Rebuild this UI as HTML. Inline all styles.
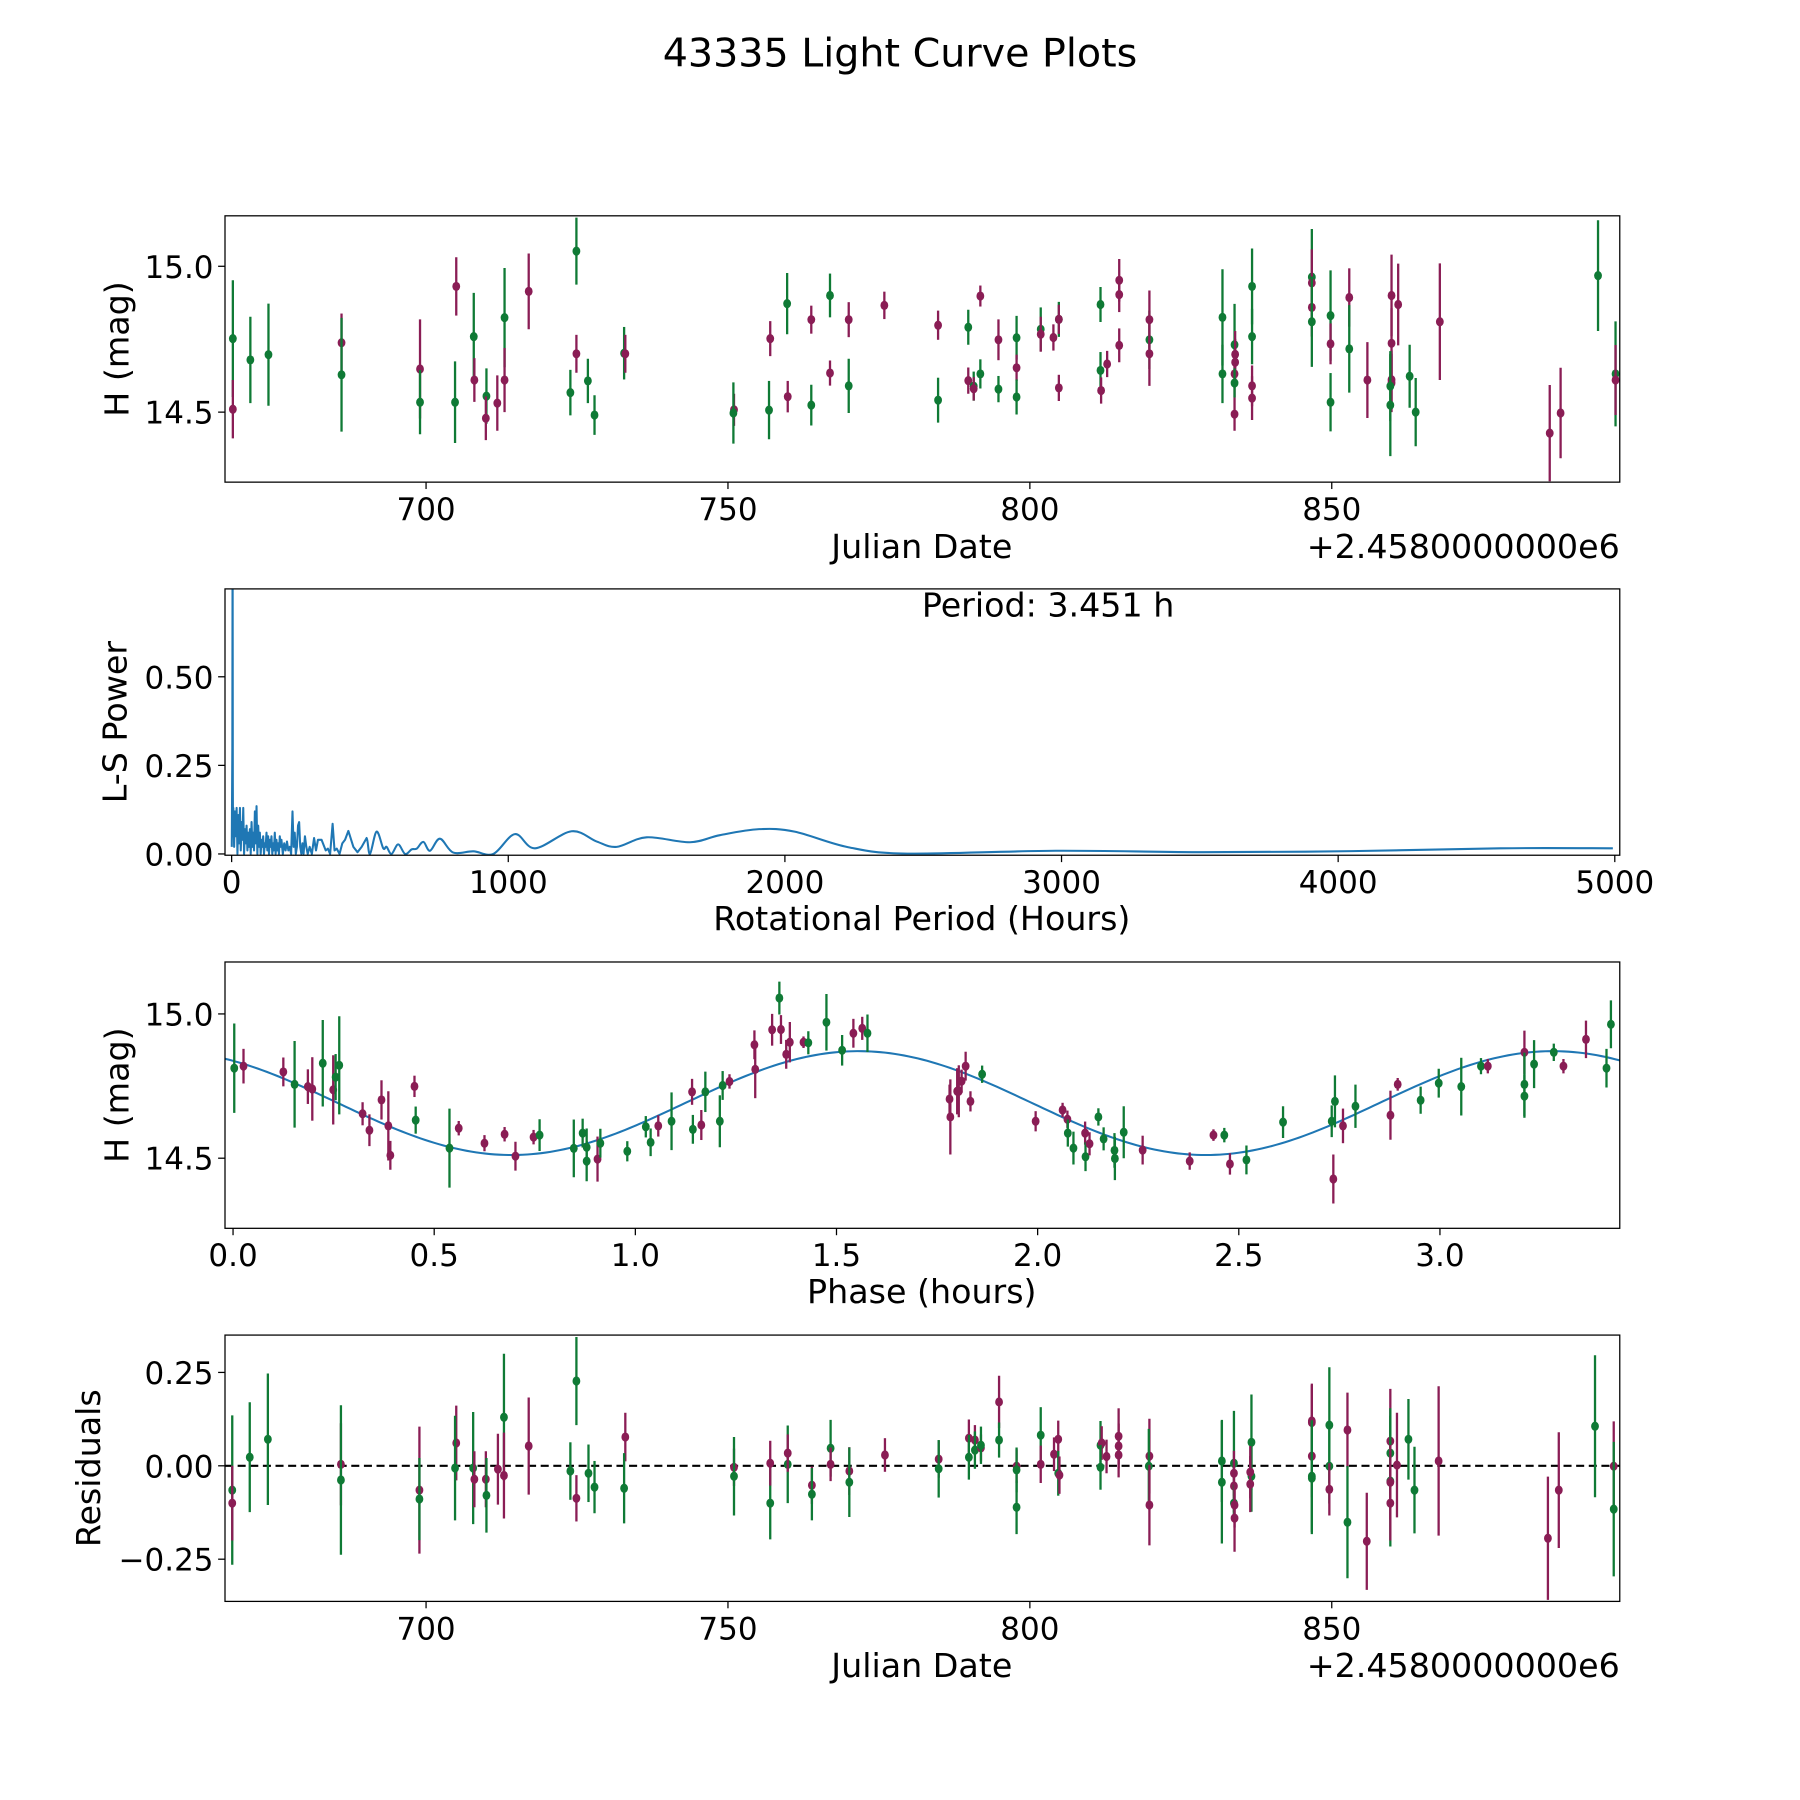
<!DOCTYPE html>
<html><head><meta charset="utf-8"><style>
html,body{margin:0;padding:0;background:#fff}
svg{display:block}
text{font-family:"DejaVu Sans","Liberation Sans",sans-serif;fill:#000}
</style></head><body>
<svg id="fig" xmlns="http://www.w3.org/2000/svg" width="1800" height="1800" viewBox="0 0 1568 1568">
<rect x="0" y="0" width="1568" height="1568" fill="#fff"/>
<text x="784" y="58" font-size="34.5" text-anchor="middle">43335 Light Curve Plots</text>
</svg>
<script>
// ---- Light curve data (Julian date offset, H mag, error, band) ----
const lcDay=[668.0,668.0,670.9,673.9,686.0,686.0,699.0,699.0,705.0,704.8,707.9,708.0,710.0,709.9,711.8,713.0,713.0,717.0,724.9,724.9,723.9,726.8,727.9,732.8,733.0,751.0,750.9,756.8,757.0,759.8,759.9,763.8,763.8,766.9,766.9,770.0,770.0,775.9,
784.8,784.8,789.8,789.8,790.7,790.7,791.8,791.8,794.8,794.8,797.8,797.8,797.8,801.8,801.8,803.9,804.8,804.8,804.8,811.7,811.7,811.8,812.8,814.8,814.8,814.8,819.8,819.8,819.8,831.9,831.9,833.9,834.0,834.0,833.9,833.9,833.9,836.8,836.8,836.8,836.8,846.7,846.7,846.7,846.7,849.8,849.8,849.8,852.9,852.9,855.9,859.9,859.9,859.9,859.9,859.7,859.7,861.0,862.9,863.9,867.9,886.1,887.9,894.1,897.0,897.0];
const lcMag=[14.752,14.510,14.679,14.697,14.738,14.628,14.648,14.534,14.931,14.534,14.759,14.610,14.555,14.479,14.531,14.824,14.610,14.914,15.052,14.700,14.567,14.607,14.490,14.702,14.700,14.508,14.497,14.507,14.752,14.872,14.553,14.817,14.524,14.900,14.634,14.817,14.590,14.866,
14.798,14.541,14.791,14.608,14.589,14.580,14.898,14.631,14.748,14.579,14.755,14.652,14.552,14.784,14.767,14.756,14.818,14.818,14.583,14.869,14.643,14.574,14.665,14.952,14.903,14.729,14.748,14.817,14.700,14.825,14.631,14.731,14.698,14.671,14.631,14.600,14.493,14.931,14.759,14.590,14.548,14.963,14.943,14.859,14.810,14.831,14.734,14.534,14.893,14.717,14.610,14.900,14.736,14.611,14.600,14.589,14.524,14.869,14.623,14.500,14.810,14.428,14.497,14.968,14.631,14.610];
const lcErr=[0.2,0.1,0.148,0.175,0.1,0.195,0.17,0.11,0.1,0.14,0.15,0.075,0.095,0.075,0.095,0.17,0.11,0.13,0.115,0.065,0.078,0.076,0.068,0.09,0.065,0.055,0.105,0.1,0.06,0.105,0.054,0.048,0.07,0.075,0.043,0.06,0.093,0.047,
0.05,0.077,0.06,0.045,0.05,0.04,0.036,0.05,0.07,0.045,0.075,0.045,0.06,0.075,0.06,0.045,0.06,0.05,0.045,0.06,0.063,0.045,0.045,0.073,0.06,0.058,0.1,0.1,0.11,0.165,0.1,0.14,0.08,0.08,0.08,0.05,0.057,0.13,0.095,0.07,0.075,0.165,0.115,0.1,0.155,0.155,0.07,0.1,0.1,0.15,0.13,0.14,0.12,0.1,0.1,0.12,0.175,0.14,0.108,0.117,0.2,0.165,0.155,0.19,0.18,0.12];
const lcBand=("g m g g m g m g m g g m g m m g m m g m g g g g m m g g m g m m g g m m g m "+
"m g g m g m m g m g g m g g m m g m m g g m m m m m g m m g g g m m m g m g g m m g m m g g m g m g m m m m m g g m g g m m m g g m").trim().split(' ');
// ---- Lomb-Scargle periodogram ----
const lsPeriod=[0.5,2.5,3.45,4.3,5,6,9,12,15,18,21,24,27,30,33,36,39,42,45,48,51,54,57,60,63,66,69,72,75,78,81,84,87,90,93,96,99,102,105,108,111,114,117,120,123,126,129,132,135,138,141,144,147,150,153,156,159,162,165,168,171,174,177,180,185,190,195,200,205,210,215,220,224,228,232,236,240,244,248,252,256,260,265,270,275,282,290,298,305,312,325,340,348,356,365,372,380,390,400,410,422,440,455,470,488,500,524,548,560,578,602,627,651,669,693,717,753,801,874,946,1024,1097,1229,1320,1392,1500,1657,1765,1907,2035,2229,2443,2979,3514,4050,4586,4993];
const lsPower=[0.02,0.3,0.95,0.2,0.05,0.13,0.02,0.12,0.05,0.13,0.0,0.11,0.03,0.13,0.01,0.09,0.04,0.13,0.0,0.07,0.03,0.08,0.01,0.06,0.02,0.07,0.0,0.09,0.02,0.06,0.01,0.12,0.03,0.135,0.0,0.08,0.02,0.06,0.0,0.04,0.02,0.05,0.0,0.03,0.02,0.06,0.01,0.05,0.0,0.04,0.02,0.05,0.0,0.03,0.01,0.06,0.0,0.04,0.01,0.03,0.0,0.05,0.02,0.04,0.0,0.03,0.01,0.035,0.01,0.02,0.0,0.12,0.02,0.06,0.0,0.02,0.08,0.09,0.02,0.0,0.03,0.0,0.05,0.02,0.0,0.02,0.0,0.045,0.01,0.04,0.04,0.01,0.015,0.0,0.085,0.01,0.015,0.0,0.03,0.04,0.065,0.02,0.005,0.02,0.045,0.0,0.063,0.016,0.02,0.0,0.027,0.0,0.013,0.015,0.034,0.009,0.043,0.004,0.0075,0.0,0.056,0.016,0.064,0.035,0.02,0.047,0.033,0.053,0.07,0.063,0.019,0.001,0.009,0.005,0.008,0.016,0.016];
// ---- Phased light curve ----
const phPhase=[0.003,0.026,0.125,0.153,0.186,0.197,0.223,0.249,0.255,0.264,0.322,0.339,0.369,0.386,0.391,0.451,0.454,0.538,0.561,0.625,0.675,0.702,0.747,0.762,0.847,0.869,0.879,0.879,0.906,0.913,0.980,1.026,1.038,1.057,1.090,1.143,1.141,1.164,1.174,1.210,1.217,1.234,1.296,1.298,1.340,1.358,1.362,1.375,1.384,1.418,1.430,1.475,1.514,1.542,1.564,1.577,
1.781,1.783,1.800,1.804,1.811,1.821,1.833,1.862,1.995,2.062,2.074,2.075,2.089,2.118,2.119,2.129,2.151,2.164,2.191,2.192,2.214,2.261,2.378,2.437,2.464,2.478,2.519,2.610,2.731,2.739,2.735,2.759,2.790,2.877,2.895,2.952,2.997,3.053,3.102,3.119,3.210,3.210,3.210,3.234,3.283,3.307,3.363,3.414,3.425];
const phMag=[14.812,14.819,14.799,14.756,14.748,14.740,14.829,14.737,14.781,14.822,14.654,14.597,14.702,14.612,14.510,14.749,14.632,14.535,14.604,14.552,14.583,14.507,14.573,14.580,14.534,14.587,14.538,14.490,14.497,14.552,14.524,14.609,14.555,14.612,14.628,14.600,14.730,14.615,14.730,14.628,14.752,14.766,14.893,14.808,14.945,15.055,14.946,14.860,14.902,14.902,14.900,14.971,14.874,14.933,14.950,14.933,
14.705,14.643,14.732,14.732,14.767,14.819,14.697,14.791,14.628,14.667,14.635,14.587,14.535,14.587,14.505,14.550,14.643,14.567,14.527,14.499,14.590,14.528,14.490,14.580,14.580,14.480,14.494,14.625,14.628,14.697,14.428,14.612,14.680,14.649,14.756,14.701,14.760,14.748,14.819,14.819,14.867,14.756,14.715,14.826,14.867,14.819,14.912,14.812,14.964];
const phErr=[0.155,0.06,0.05,0.15,0.06,0.11,0.15,0.12,0.08,0.17,0.04,0.055,0.068,0.12,0.05,0.037,0.047,0.137,0.025,0.028,0.025,0.05,0.025,0.055,0.1,0.05,0.065,0.07,0.078,0.05,0.035,0.037,0.048,0.037,0.1,0.05,0.045,0.052,0.07,0.09,0.05,0.025,0.05,0.1,0.055,0.057,0.05,0.05,0.07,0.02,0.04,0.098,0.053,0.05,0.04,0.065,
0.05,0.13,0.08,0.09,0.04,0.05,0.035,0.03,0.035,0.025,0.03,0.047,0.057,0.04,0.05,0.04,0.03,0.04,0.06,0.075,0.09,0.05,0.03,0.02,0.025,0.037,0.05,0.055,0.055,0.09,0.085,0.06,0.075,0.085,0.022,0.047,0.05,0.1,0.028,0.025,0.075,0.11,0.075,0.083,0.03,0.025,0.065,0.067,0.083];
const phBand=("g m m g m m g m g g m m m m m m g g m m m m m g g g g g m g g g g m g g m m g g g m m m m g m m m m g g g m m g "+
"m m m m m m m g m m m g g m g m g g g g g m m m g m g g g g m m g m m g g g g m m g g g g m m g g").trim().split(' ');
// fitted sinusoid parameters: mean, amplitude, peak phase, half-period
const fitMean=[14.691];
const fitAmp=[0.18];
const fitPeak=[1.555];
const fitCycle=[1.7255];
// ---- Residuals ----
const resDay=[667.9,667.9,670.8,673.8,685.9,685.9,698.9,698.9,705.0,704.8,707.8,708.0,709.9,710.0,711.9,712.9,712.9,717.0,724.9,724.9,723.9,726.9,727.9,733.0,732.8,751.0,751.0,757.0,757.0,759.9,759.9,763.9,763.9,767.0,767.0,770.1,770.1,776.0,
784.9,784.9,789.9,789.9,790.9,790.9,791.9,791.9,794.9,794.9,797.8,797.8,797.8,801.8,801.8,804.0,804.7,804.7,804.9,811.7,811.9,811.7,812.7,814.7,814.7,814.7,819.8,819.7,819.8,831.8,831.8,833.8,833.8,833.8,833.8,833.9,833.9,836.7,836.7,836.5,836.5,846.7,846.7,846.7,846.7,846.7,849.6,849.6,849.6,852.6,852.6,855.8,859.7,859.7,859.7,859.7,859.7,860.8,862.7,863.7,867.7,885.8,887.6,893.6,896.7,896.7];
const resVal=[-0.065,-0.10,0.023,0.071,0.004,-0.038,-0.065,-0.089,0.061,-0.006,-0.006,-0.036,-0.036,-0.079,-0.009,0.13,-0.026,0.053,0.227,-0.087,-0.014,-0.02,-0.057,0.077,-0.06,-0.004,-0.028,-0.10,0.007,0.004,0.034,-0.052,-0.076,0.047,0.004,-0.014,-0.044,0.029,
0.018,-0.008,0.074,0.023,0.069,0.042,0.048,0.055,0.171,0.069,-0.001,-0.011,-0.111,0.082,0.004,0.031,0.071,-0.02,-0.025,0.055,0.061,-0.004,0.025,0.079,0.053,0.029,0.026,-0.001,-0.105,0.013,-0.044,0.007,-0.02,-0.054,-0.10,-0.105,-0.14,0.063,-0.028,-0.017,-0.049,0.12,0.116,0.026,-0.028,-0.033,0.109,-0.001,-0.063,0.096,-0.151,-0.202,0.066,0.034,-0.041,-0.044,-0.10,0.002,0.071,-0.065,0.013,-0.194,-0.065,0.106,-0.001,-0.116];
const resErr=[0.2,0.1,0.147,0.176,0.11,0.2,0.17,0.11,0.1,0.14,0.15,0.075,0.075,0.1,0.095,0.17,0.115,0.13,0.118,0.062,0.077,0.077,0.07,0.065,0.094,0.05,0.105,0.097,0.06,0.104,0.05,0.05,0.07,0.076,0.045,0.064,0.093,0.045,
0.05,0.077,0.05,0.06,0.04,0.05,0.036,0.05,0.07,0.047,0.045,0.06,0.072,0.075,0.05,0.045,0.05,0.06,0.05,0.065,0.045,0.06,0.045,0.075,0.06,0.06,0.1,0.1,0.108,0.11,0.164,0.14,0.06,0.07,0.05,0.06,0.09,0.128,0.095,0.07,0.075,0.1,0.1,0.11,0.15,0.15,0.155,0.1,0.07,0.1,0.15,0.13,0.14,0.12,0.175,0.1,0.1,0.14,0.108,0.116,0.2,0.165,0.155,0.19,0.12,0.18];
const resBand=("g m g g m g m g m g g m m g m g m m g m g g g m g m g g m g m m g g m m g m "+
"m g m g m g m g m g m g g g m m m g m g m g m m m m m g m g g g m m g m m g g m m m m m g g g g m m g m m g g m m m g g m m m g m g").trim().split(' ');

const NS="http://www.w3.org/2000/svg";
const svg=document.getElementById('fig');
const GREEN="#0f7a35", PURPLE="#8a1d55", BLUE="#1f77b4";
const TICK=27, LAB=29;
function mk(tag,attrs,parent){const e=document.createElementNS(NS,tag);for(const k in attrs)e.setAttribute(k,attrs[k]);(parent||svg).appendChild(e);return e;}
function txt(s,x,y,size,anchor,parent){const t=mk('text',{x:x,y:y,'font-size':size,'text-anchor':anchor||'middle'},parent);t.textContent=s;return t;}

function panel(id,box,xl,yl){
  const g=mk('g',{});
  
  
  const sx=v=>box.x0+(v-xl[0])/(xl[1]-xl[0])*(box.x1-box.x0);
  const sy=v=>box.y1-(v-yl[0])/(yl[1]-yl[0])*(box.y1-box.y0);
  const cid='clip-'+id;
  const cp=mk('clipPath',{id:cid},g);mk('rect',{x:box.x0,y:box.y0,width:box.x1-box.x0,height:box.y1-box.y0},cp);
  const plot=mk('g',{'clip-path':'url(#'+cid+')'},g);
  
  
  return {g,plot,sx,sy,box};
}
function frame(P){
  const r=mk('rect',{x:P.box.x0,y:P.box.y0,width:P.box.x1-P.box.x0,height:P.box.y1-P.box.y0,fill:'none',stroke:'#000','stroke-width':1.1},P.g);
  
  
}
function xticks(P,vals,labels,name){
  const g=mk('g',{},P.g);
  
  
  vals.forEach((v,i)=>{const x=P.sx(v);mk('line',{x1:x,x2:x,y1:P.box.y1,y2:P.box.y1+6,stroke:'#000','stroke-width':1.1},g);
    const t=txt(labels[i],x,P.box.y1+33,TICK,'middle',g);
    
    });
}
function yticks(P,vals,labels,name){
  const g=mk('g',{},P.g);
  
  
  vals.forEach((v,i)=>{const y=P.sy(v);mk('line',{x1:P.box.x0-6,x2:P.box.x0,y1:y,y2:y,stroke:'#000','stroke-width':1.1},g);
    const t=txt(labels[i],P.box.x0-10,y+10,TICK,'end',g);
    
    });
}
function ylabel(s,x,yc,name,parent){const t=mk('text',{x:0,y:0,'font-size':LAB,'text-anchor':'middle',transform:'translate('+x+','+yc+') rotate(-90)'},parent);t.textContent=s;
  
  }
function errpoints(P,xs,ys,es,bands,name){
  const g=mk('g',{},P.plot);
  
  
  for(let i=0;i<xs.length;i++){
    const c=bands[i]==='g'?GREEN:PURPLE;const x=P.sx(xs[i]);
    const pg=mk('g',{},g);
    
    
    mk('line',{x1:x,x2:x,y1:P.sy(ys[i]-es[i]),y2:P.sy(ys[i]+es[i]),stroke:c,'stroke-width':2},pg);
    mk('ellipse',{cx:x,cy:P.sy(ys[i]),rx:3.4,ry:4,fill:c},pg);
  }
}
const xL=[666.7,897.7];

// Panel 1
const P1=panel('light-curve-panel',{x0:196,x1:1411,y0:188,y1:420},xL,[14.26,15.173]);
errpoints(P1,lcDay,lcMag,lcErr,lcBand,'light-curve-points');
frame(P1);
xticks(P1,[700,750,800,850],['700','750','800','850'],'x-ticks-jd');
yticks(P1,[14.5,15.0],['14.5','15.0'],'y-ticks-mag');
(function(){let t=txt('Julian Date',803,486,LAB,'middle',P1.g);
t=txt('+2.4580000000e6',1411,486,LAB,'end',P1.g);})();
ylabel('H (mag)',112,304,'y-axis-title',P1.g);

// Panel 2
const P2=panel('periodogram-panel',{x0:196,x1:1411,y0:513,y1:745},[-24,5018],[-0.0036,0.748]);
(function(){
  const pts=lsPeriod.map((p,i)=>[P2.sx(p),P2.sy(lsPower[i])]);
  let d='M'+pts[0][0]+','+pts[0][1];
  for(let i=0;i<pts.length-1;i++){
    const p0=pts[Math.max(0,i-1)],p1=pts[i],p2=pts[i+1],p3=pts[Math.min(pts.length-1,i+2)];
    if(lsPeriod[i]<480){d+=' L'+p2[0]+','+p2[1];continue;}
    const c1=[p1[0]+(p2[0]-p0[0])/6,p1[1]+(p2[1]-p0[1])/6],c2=[p2[0]-(p3[0]-p1[0])/6,p2[1]-(p3[1]-p1[1])/6];
    d+=' C'+c1[0]+','+c1[1]+' '+c2[0]+','+c2[1]+' '+p2[0]+','+p2[1];
  }
  const path=mk('path',{d:d,fill:'none',stroke:BLUE,'stroke-width':1.8,'stroke-linejoin':'round'},P2.plot);
  
  
})();
frame(P2);
xticks(P2,[0,1000,2000,3000,4000,5000],['0','1000','2000','3000','4000','5000'],'x-ticks-period');
yticks(P2,[0,0.25,0.5],['0.00','0.25','0.50'],'y-ticks-power');
(function(){let t=txt('Rotational Period (Hours)',803,810,LAB,'middle',P2.g);
t=txt('Period: 3.451 h',913,537,LAB,'middle',P2.g);})();
ylabel('L-S Power',110,629,'y-axis-title',P2.g);

// Panel 3
const P3=panel('phase-panel',{x0:196,x1:1411,y0:838,y1:1070},[-0.02,3.447],[14.257,15.18]);
(function(){
  let d='';
  for(let k=0;k<=300;k++){const p=-0.02+k*(3.447+0.02)/300;
    const m=fitMean[0]+fitAmp[0]*Math.cos(2*Math.PI*(p-fitPeak[0])/fitCycle[0]);
    d+=(k?' L':'M')+P3.sx(p)+','+P3.sy(m);}
  const path=mk('path',{d:d,fill:'none',stroke:BLUE,'stroke-width':1.8},P3.plot);
  
  
})();
errpoints(P3,phPhase,phMag,phErr,phBand,'phased-points');
frame(P3);
xticks(P3,[0,0.5,1,1.5,2,2.5,3],['0.0','0.5','1.0','1.5','2.0','2.5','3.0'],'x-ticks-phase');
yticks(P3,[14.5,15.0],['14.5','15.0'],'y-ticks-mag');
(function(){const t=txt('Phase (hours)',803,1135,LAB,'middle',P3.g);})();
ylabel('H (mag)',112,954,'y-axis-title',P3.g);

// Panel 4
const P4=panel('residuals-panel',{x0:196,x1:1411,y0:1163,y1:1395},xL,[-0.363,0.35]);
(function(){const l=mk('line',{x1:196,x2:1411,y1:P4.sy(0),y2:P4.sy(0),stroke:'#000','stroke-width':1.8,'stroke-dasharray':'7,4'},P4.plot);
})();
errpoints(P4,resDay,resVal,resErr,resBand,'residual-points');
frame(P4);
xticks(P4,[700,750,800,850],['700','750','800','850'],'x-ticks-jd');
yticks(P4,[-0.25,0,0.25],['\u22120.25','0.00','0.25'],'y-ticks-residual');
(function(){let t=txt('Julian Date',803,1461,LAB,'middle',P4.g);
t=txt('+2.4580000000e6',1411,1461,LAB,'end',P4.g);})();
ylabel('Residuals',87,1279,'y-axis-title',P4.g);
</script>
</body></html>
